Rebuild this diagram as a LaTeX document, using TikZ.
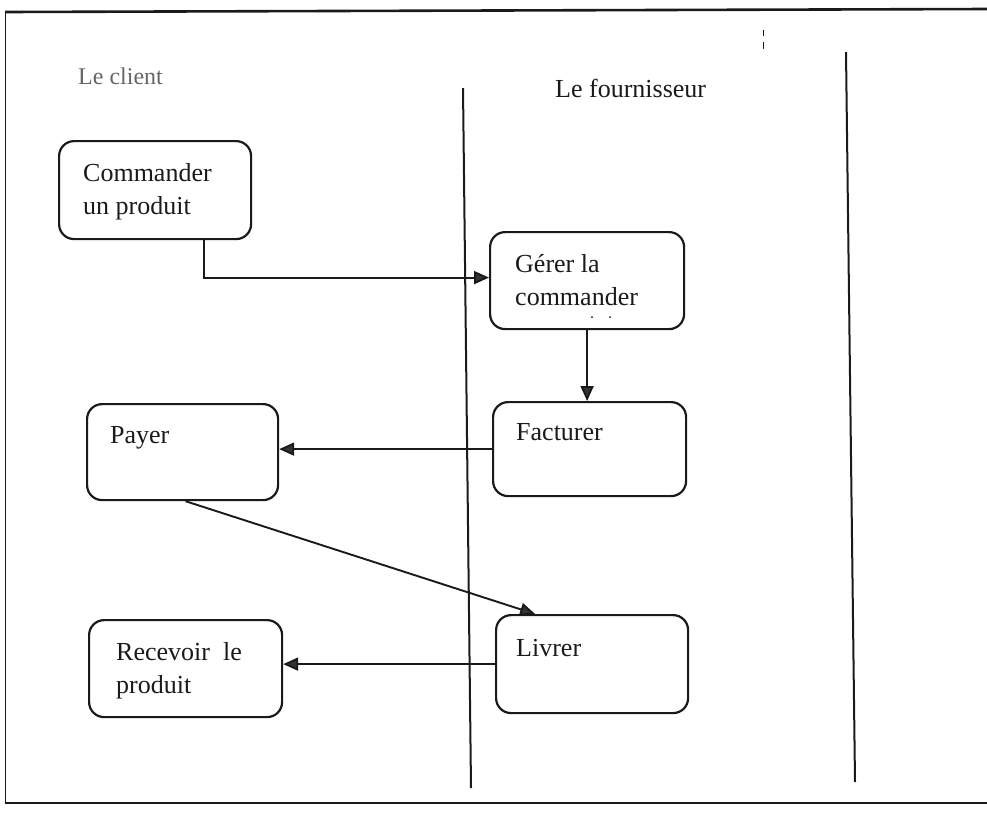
\documentclass[tikz,border=0pt]{standalone}
\usepackage{fontspec}
\setmainfont{Liberation Serif}
\usetikzlibrary{arrows.meta}
\definecolor{ink}{HTML}{1A1A1A}
\definecolor{headgray}{HTML}{333333}
\tikzset{
  stepbox/.style={draw=ink, line width=2.2pt, rounded corners=15pt, inner sep=0pt, anchor=north west},
  steptext/.style={anchor=base west, inner sep=0pt, align=left, font=\fontsize{26}{33}\selectfont, text=ink},
  flow/.style={draw=ink, line width=1.9pt, -{Triangle[length=15pt,width=13pt,fill=headgray]}},
  lane/.style={draw=ink, line width=2pt},
  frame/.style={draw=ink, line width=2.6pt}
}
\begin{document}
\begin{tikzpicture}[x=1pt,y=-1pt]
  \useasboundingbox (0,0) rectangle (987,815);
  % outer frame (no right side)
  \coordinate (ftl) at (5,12);
  \coordinate (ftr) at (987,9);
  \coordinate (fbl) at (5,803);
  \coordinate (fbr) at (987,803);
  \draw[frame] (ftl) -- (ftr);
  \draw[frame] (fbl) -- (fbr);
  \draw[draw=ink, line width=1pt] (ftl) -- (fbl);

  % swimlane separators
  \coordinate (l1t) at (463,88);
  \coordinate (l1b) at (471,788);
  \coordinate (l2t) at (846,52);
  \coordinate (l2b) at (855,782);
  \draw[lane] (l1t) -- (l1b);
  \draw[lane] (l2t) -- (l2b);

  % small marks at the top
  \coordinate (m1a) at (763,30); \coordinate (m1b) at (763,36);
  \coordinate (m2a) at (763,42); \coordinate (m2b) at (763,49);
  \draw[draw=ink, line width=0.8pt] (m1a) -- (m1b);
  \draw[draw=ink, line width=0.8pt] (m2a) -- (m2b);

  % lane titles
  \node[anchor=base west, inner sep=0pt, font=\fontsize{24}{28}\selectfont, text=black!60] (client) at (78,84) {Le client};
  \node[anchor=base west, inner sep=0pt, font=\fontsize{26}{33}\selectfont, text=ink] (fourn) at (555,97) {Le fournisseur};

  % activity boxes
  \node[stepbox, minimum width=192pt, minimum height=98pt] (cmd) at (58,140) {};
  \node[stepbox, minimum width=194pt, minimum height=97pt] (ger) at (489,231) {};
  \node[stepbox, minimum width=193pt, minimum height=94pt] (fac) at (492,401) {};
  \node[stepbox, minimum width=191pt, minimum height=96pt] (pay) at (86,403) {};
  \node[stepbox, minimum width=192pt, minimum height=98pt] (liv) at (495,614) {};
  \node[stepbox, minimum width=193pt, minimum height=97pt] (rec) at (88,619) {};

  % activity labels (base anchor of a two-line label sits on its second line)
  \node[steptext] (cmdt) at ([shift={(25,74)}]cmd.north west) {Commander\\un produit};
  \node[steptext] (gert) at ([shift={(26,74)}]ger.north west) {Gérer la\\commander};
  \node[steptext] (fact) at ([shift={(24,39)}]fac.north west) {Facturer};
  \node[steptext] (payt) at ([shift={(24,40)}]pay.north west) {Payer};
  \node[steptext] (livt) at ([shift={(21,42)}]liv.north west) {Livrer};
  \node[steptext] (rect) at ([shift={(28,74)}]rec.north west) {Recevoir\ \ le\\produit};

  % two small dots under "commander"
  \fill[ink] ([shift={(103,86)}]ger.north west) circle (1pt);
  \fill[ink] ([shift={(121,86)}]ger.north west) circle (1pt);

  % control flow
  \draw[flow] ([xshift=49pt]cmd.south) |- ([yshift=3pt]ger.west);
  \draw[flow] (ger.south) -- (ger.south |- fac.north);
  \draw[flow] (fac.west) -- (fac.west -| pay.east);
  \draw[flow] ([xshift=3pt]pay.south) -- ([xshift=-57pt]liv.north);
  \draw[flow] (liv.west) -- (liv.west -| rec.east);
\end{tikzpicture}
\end{document}
